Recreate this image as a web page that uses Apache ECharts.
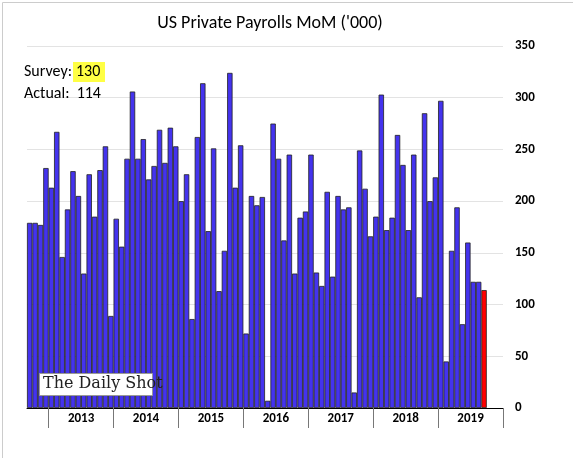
<!DOCTYPE html>
<html>
<head>
<meta charset="utf-8">
<script src="https://cdn.jsdelivr.net/npm/echarts@6/dist/echarts.min.js"></script>
<style>
html, body { margin: 0; padding: 0; background: #fff; }
#chart { width: 573px; height: 458px; }
</style>
</head>
<body>
<div id="chart"></div>
<script>
// monthly values, Sep 2012 .. Sep 2019
var payrolls = [
    179, 179, 177, 232,
    213, 267, 146, 192, 229, 205, 130, 226, 185, 230, 253, 89,
    183, 156, 241, 306, 241, 260, 221, 234, 269, 237, 271, 253,
    200, 226, 86, 262, 314, 171, 251, 113, 152, 324, 213, 254,
    72, 205, 196, 204, 7, 275, 241, 162, 245, 130, 184, 190,
    245, 131, 118, 209, 127, 205, 192, 194, 15, 249, 212, 166,
    185, 303, 172, 184, 264, 235, 172, 245, 107, 285, 200, 223,
    297, 45, 152, 194, 81, 160, 122, 122, 114
];
var yearTicks = [4, 16, 28, 40, 52, 64, 76, 88];
var yearNames = ['2013', '2014', '2015', '2016', '2017', '2018', '2019'];
var totalSlots = 88;

var months = [];
for (var i = 0; i < totalSlots; i++) months.push(String(i));

var barData = payrolls.map(function (v, i) {
    return i === payrolls.length - 1 ? { value: v, itemStyle: { color: '#ff0000' } } : v;
});

var font = 'Calibri, Carlito, "Open Sans", sans-serif';
var myChart = echarts.init(document.getElementById('chart'));
option = {
    animation: false,
    title: {
        text: "US Private Payrolls MoM ('000)",
        left: 265,
        textAlign: 'center',
        top: 9,
        textStyle: { fontFamily: font, fontSize: 18, fontWeight: 'normal', color: '#000' }
    },
    grid: { left: 27, right: 70, top: 46, bottom: 50 },
    xAxis: [{
        type: 'category',
        data: months,
        boundaryGap: true,
        axisLine: { lineStyle: { color: '#000' } },
        axisTick: { show: false },
        axisLabel: { show: false }
    }, {
        type: 'value',
        position: 'bottom',
        min: 0,
        max: totalSlots,
        splitLine: { show: false },
        axisLine: { show: false },
        axisTick: { show: true, length: 20, customValues: yearTicks, lineStyle: { color: '#777' } },
        axisLabel: {
            customValues: [10, 22, 34, 46, 58, 70, 82],
            formatter: function (v) { return yearNames[(v - 10) / 12]; },
            fontWeight: 'bold', fontSize: 13, color: '#000', margin: 4, fontFamily: font
        }
    }],
    yAxis: {
        type: 'value',
        position: 'right',
        min: 0,
        max: 350,
        interval: 50,
        axisLine: { show: false },
        axisTick: { show: false },
        splitLine: { lineStyle: { color: '#e3e3e3' } },
        axisLabel: { color: '#000', fontWeight: 'bold', fontSize: 13, margin: 12, fontFamily: font }
    },
    graphic: [
        { type: 'rect', z: 100, left: 73, top: 62, shape: { width: 32, height: 20 }, style: { fill: '#ffff44' } },
        { type: 'text', z: 101, left: 24, top: 64, style: { text: 'Survey:', fill: '#000', font: '16px ' + font } },
        { type: 'text', z: 101, left: 76, top: 64, style: { text: '130', fill: '#000', font: '16px ' + font } },
        { type: 'text', z: 101, left: 24, top: 86, style: { text: 'Actual:  114', fill: '#000', font: '16px ' + font } },
        { type: 'rect', z: 100, left: 39, top: 373, shape: { width: 113, height: 22 }, style: { fill: '#fff', stroke: '#999', lineWidth: 1 } },
        { type: 'text', z: 101, left: 43, top: 376, style: { text: 'The Daily Shot', fill: '#222', font: '16px "DejaVu Serif", "Liberation Serif", serif' } },
        { type: 'rect', z: 100, left: 0, top: 0, shape: { x: 0.5, y: 0.5, width: 571, height: 456 }, style: { fill: 'none', stroke: '#ccc' } }
    ],
    series: [{
        type: 'bar',
        data: barData,
        barCategoryGap: 0,
        itemStyle: { color: '#4433ee', borderColor: '#222', borderWidth: 0.8 }
    }]
};
myChart.setOption(option);
window.addEventListener("resize", function () {
    myChart.resize();
});
</script>
</body>
</html>
